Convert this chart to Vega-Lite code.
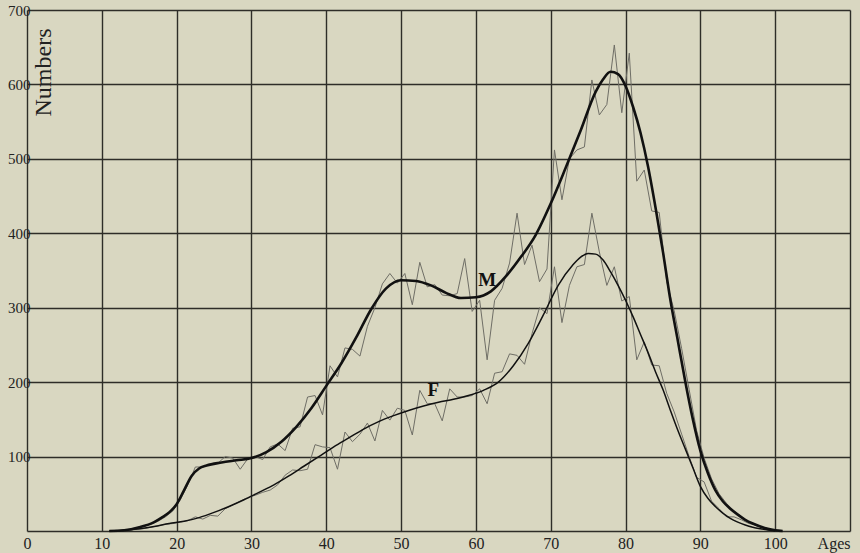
{
  "$schema": "https://vega.github.io/schema/vega-lite/v6.json",
  "width": 823,
  "height": 521,
  "autosize": "none",
  "padding": {"left": 27, "top": 10, "right": 10, "bottom": 22},
  "background": "#d9d7c1",
  "config": {
    "view": {"stroke": null},
    "font": "Liberation Serif"
  },
  "datasets": {
    "raw": [
      {"series":"M","age":12.5,"value":1},{"series":"M","age":13.5,"value":2},{"series":"M","age":14.5,"value":4},{"series":"M","age":15.5,"value":6},{"series":"M","age":16.5,"value":9},{"series":"M","age":17.5,"value":13},{"series":"M","age":18.5,"value":19},{"series":"M","age":19.5,"value":27},{"series":"M","age":20.5,"value":42},{"series":"M","age":21.5,"value":62},{"series":"M","age":22.5,"value":86},{"series":"M","age":23.5,"value":86},{"series":"M","age":24.5,"value":90},{"series":"M","age":25.5,"value":91},{"series":"M","age":26.5,"value":100},{"series":"M","age":27.5,"value":98},{"series":"M","age":28.5,"value":83},{"series":"M","age":29.5,"value":97},{"series":"M","age":30.5,"value":100},{"series":"M","age":31.5,"value":96},{"series":"M","age":32.5,"value":113},{"series":"M","age":33.5,"value":117},{"series":"M","age":34.5,"value":108},{"series":"M","age":35.5,"value":138},{"series":"M","age":36.5,"value":140},{"series":"M","age":37.5,"value":180},{"series":"M","age":38.5,"value":182},{"series":"M","age":39.5,"value":156},{"series":"M","age":40.5,"value":222},{"series":"M","age":41.5,"value":207},{"series":"M","age":42.5,"value":246},{"series":"M","age":43.5,"value":244},{"series":"M","age":44.5,"value":235},{"series":"M","age":45.5,"value":275},{"series":"M","age":46.5,"value":300},{"series":"M","age":47.5,"value":332},{"series":"M","age":48.5,"value":346},{"series":"M","age":49.5,"value":333},{"series":"M","age":50.5,"value":346},{"series":"M","age":51.5,"value":304},{"series":"M","age":52.5,"value":361},{"series":"M","age":53.5,"value":328},{"series":"M","age":54.5,"value":331},{"series":"M","age":55.5,"value":317},{"series":"M","age":56.5,"value":316},{"series":"M","age":57.5,"value":319},{"series":"M","age":58.5,"value":366},{"series":"M","age":59.5,"value":295},{"series":"M","age":60.5,"value":310},{"series":"M","age":61.5,"value":230},{"series":"M","age":62.5,"value":310},{"series":"M","age":63.5,"value":326},{"series":"M","age":64.5,"value":360},{"series":"M","age":65.5,"value":427},{"series":"M","age":66.5,"value":358},{"series":"M","age":67.5,"value":384},{"series":"M","age":68.5,"value":335},{"series":"M","age":69.5,"value":352},{"series":"M","age":70.5,"value":512},{"series":"M","age":71.5,"value":445},{"series":"M","age":72.5,"value":500},{"series":"M","age":73.5,"value":512},{"series":"M","age":74.5,"value":516},{"series":"M","age":75.5,"value":606},{"series":"M","age":76.5,"value":559},{"series":"M","age":77.5,"value":573},{"series":"M","age":78.5,"value":653},{"series":"M","age":79.5,"value":562},{"series":"M","age":80.5,"value":642},{"series":"M","age":81.5,"value":470},{"series":"M","age":82.5,"value":485},{"series":"M","age":83.5,"value":430},{"series":"M","age":84.5,"value":428},{"series":"M","age":85.5,"value":335},{"series":"M","age":86.5,"value":296},{"series":"M","age":87.5,"value":245},{"series":"M","age":88.5,"value":190},{"series":"M","age":89.5,"value":135},{"series":"M","age":90.5,"value":98},{"series":"M","age":91.5,"value":70},{"series":"M","age":92.5,"value":50},{"series":"M","age":93.5,"value":37},{"series":"M","age":94.5,"value":27},{"series":"M","age":95.5,"value":19},{"series":"M","age":96.5,"value":12},{"series":"M","age":97.5,"value":7},{"series":"M","age":98.5,"value":4},{"series":"M","age":99.5,"value":2},{"series":"M","age":100.5,"value":0},
      {"series":"F","age":12.5,"value":0.5},{"series":"F","age":13.5,"value":1},{"series":"F","age":14.5,"value":2},{"series":"F","age":15.5,"value":3},{"series":"F","age":16.5,"value":5},{"series":"F","age":17.5,"value":7},{"series":"F","age":18.5,"value":9},{"series":"F","age":19.5,"value":10},{"series":"F","age":20.5,"value":12},{"series":"F","age":21.5,"value":14},{"series":"F","age":22.5,"value":19},{"series":"F","age":23.5,"value":16},{"series":"F","age":24.5,"value":21},{"series":"F","age":25.5,"value":20},{"series":"F","age":26.5,"value":30},{"series":"F","age":27.5,"value":35},{"series":"F","age":28.5,"value":40},{"series":"F","age":29.5,"value":45},{"series":"F","age":30.5,"value":48},{"series":"F","age":31.5,"value":52},{"series":"F","age":32.5,"value":55},{"series":"F","age":33.5,"value":62},{"series":"F","age":34.5,"value":75},{"series":"F","age":35.5,"value":82},{"series":"F","age":36.5,"value":81},{"series":"F","age":37.5,"value":83},{"series":"F","age":38.5,"value":116},{"series":"F","age":39.5,"value":113},{"series":"F","age":40.5,"value":112},{"series":"F","age":41.5,"value":83},{"series":"F","age":42.5,"value":133},{"series":"F","age":43.5,"value":120},{"series":"F","age":44.5,"value":130},{"series":"F","age":45.5,"value":145},{"series":"F","age":46.5,"value":121},{"series":"F","age":47.5,"value":162},{"series":"F","age":48.5,"value":149},{"series":"F","age":49.5,"value":165},{"series":"F","age":50.5,"value":162},{"series":"F","age":51.5,"value":129},{"series":"F","age":52.5,"value":189},{"series":"F","age":53.5,"value":171},{"series":"F","age":54.5,"value":171},{"series":"F","age":55.5,"value":148},{"series":"F","age":56.5,"value":191},{"series":"F","age":57.5,"value":180},{"series":"F","age":58.5,"value":180},{"series":"F","age":59.5,"value":182},{"series":"F","age":60.5,"value":191},{"series":"F","age":61.5,"value":171},{"series":"F","age":62.5,"value":212},{"series":"F","age":63.5,"value":214},{"series":"F","age":64.5,"value":238},{"series":"F","age":65.5,"value":236},{"series":"F","age":66.5,"value":224},{"series":"F","age":67.5,"value":265},{"series":"F","age":68.5,"value":300},{"series":"F","age":69.5,"value":292},{"series":"F","age":70.5,"value":355},{"series":"F","age":71.5,"value":280},{"series":"F","age":72.5,"value":330},{"series":"F","age":73.5,"value":355},{"series":"F","age":74.5,"value":358},{"series":"F","age":75.5,"value":427},{"series":"F","age":76.5,"value":375},{"series":"F","age":77.5,"value":330},{"series":"F","age":78.5,"value":355},{"series":"F","age":79.5,"value":309},{"series":"F","age":80.5,"value":315},{"series":"F","age":81.5,"value":230},{"series":"F","age":82.5,"value":254},{"series":"F","age":83.5,"value":223},{"series":"F","age":84.5,"value":222},{"series":"F","age":85.5,"value":185},{"series":"F","age":86.5,"value":160},{"series":"F","age":87.5,"value":130},{"series":"F","age":88.5,"value":100},{"series":"F","age":89.5,"value":72},{"series":"F","age":90.5,"value":66},{"series":"F","age":91.5,"value":40},{"series":"F","age":92.5,"value":30},{"series":"F","age":93.5,"value":19},{"series":"F","age":94.5,"value":19},{"series":"F","age":95.5,"value":15},{"series":"F","age":96.5,"value":10},{"series":"F","age":97.5,"value":8},{"series":"F","age":98.5,"value":5},{"series":"F","age":99.5,"value":2},{"series":"F","age":100.5,"value":0}
    ],
    "smoothM": [
      {"age":11,"value":0},{"age":13,"value":1},{"age":15,"value":5},{"age":17,"value":12},{"age":18,"value":18},{"age":19,"value":25},{"age":20,"value":36},{"age":21,"value":55},{"age":22,"value":74},{"age":23,"value":84},{"age":24,"value":88},{"age":26,"value":92},{"age":28,"value":95},{"age":30,"value":98},{"age":32,"value":106},{"age":34,"value":120},{"age":36,"value":140},{"age":38,"value":165},{"age":40,"value":195},{"age":42,"value":225},{"age":44,"value":260},{"age":46,"value":298},{"age":48,"value":326},{"age":50,"value":337},{"age":52,"value":336},{"age":54,"value":330},{"age":56,"value":320},{"age":58,"value":313},{"age":60,"value":314},{"age":62,"value":322},{"age":64,"value":342},{"age":66,"value":368},{"age":68,"value":398},{"age":70,"value":440},{"age":72,"value":488},{"age":74,"value":538},{"age":76,"value":590},{"age":77,"value":607},{"age":78,"value":617},{"age":79,"value":614},{"age":80,"value":598},{"age":81,"value":570},{"age":82,"value":535},{"age":83,"value":490},{"age":84,"value":435},{"age":85,"value":375},{"age":86,"value":310},{"age":87,"value":255},{"age":88,"value":200},{"age":89,"value":150},{"age":90,"value":108},{"age":91,"value":78},{"age":92,"value":55},{"age":93,"value":40},{"age":94,"value":30},{"age":95,"value":22},{"age":96,"value":15},{"age":97,"value":10},{"age":98,"value":6},{"age":99,"value":3},{"age":100,"value":1},{"age":101,"value":0}
    ],
    "smoothF": [
      {"age":11,"value":0},{"age":13,"value":1},{"age":15,"value":3},{"age":17,"value":6},{"age":19,"value":10},{"age":21,"value":13},{"age":23,"value":18},{"age":25,"value":25},{"age":27,"value":33},{"age":29,"value":42},{"age":31,"value":52},{"age":33,"value":62},{"age":35,"value":74},{"age":37,"value":87},{"age":39,"value":100},{"age":41,"value":113},{"age":43,"value":125},{"age":45,"value":137},{"age":47,"value":147},{"age":49,"value":155},{"age":51,"value":162},{"age":53,"value":168},{"age":55,"value":173},{"age":57,"value":177},{"age":59,"value":182},{"age":61,"value":189},{"age":63,"value":200},{"age":65,"value":222},{"age":67,"value":252},{"age":69,"value":290},{"age":71,"value":330},{"age":73,"value":358},{"age":74,"value":368},{"age":75,"value":373},{"age":76,"value":372},{"age":77,"value":364},{"age":78,"value":348},{"age":79,"value":330},{"age":80,"value":310},{"age":81,"value":288},{"age":82,"value":264},{"age":83,"value":240},{"age":84,"value":214},{"age":85,"value":190},{"age":86,"value":162},{"age":87,"value":135},{"age":88,"value":110},{"age":89,"value":85},{"age":90,"value":60},{"age":91,"value":44},{"age":92,"value":33},{"age":93,"value":24},{"age":94,"value":17},{"age":95,"value":12},{"age":96,"value":8},{"age":97,"value":5},{"age":98,"value":3},{"age":99,"value":1.5},{"age":100,"value":0}
    ],
    "labels": [
      {"label":"M","age":61.5,"value":337},
      {"label":"F","age":54.3,"value":189}
    ]
  },
  "layer": [
    {
      "data": {"name": "raw"},
      "mark": {"type": "line", "color": "#6f6e66", "strokeWidth": 1},
      "encoding": {
        "x": {
          "field": "age", "type": "quantitative",
          "scale": {"domain": [0, 110], "nice": false, "zero": false},
          "axis": {
            "values": [0,5,10,15,20,25,30,35,40,45,50,55,60,65,70,75,80,85,90,95,100,105,110],
            "grid": true, "gridColor": "#2e2d28", "gridWidth": 1.4, "gridOpacity": 1,
            "domain": false, "ticks": false, "title": null,
            "labelExpr": "datum.value == 110 ? 'Ages' : (datum.value % 10 == 0 ? datum.label : '')",
            "labelAlign": {"condition": {"test": "datum.value == 110", "value": "right"}, "value": "center"},
            "labelFont": "Liberation Serif", "labelFontSize": 16, "labelColor": "#222",
            "labelPadding": 4, "labelOverlap": false, "labelFlush": false, "labelBound": false
          }
        },
        "y": {
          "field": "value", "type": "quantitative",
          "scale": {"domain": [0, 700], "nice": false},
          "axis": {
            "values": [0,50,100,150,200,250,300,350,400,450,500,550,600,650,700],
            "grid": true, "gridColor": "#2e2d28", "gridWidth": 1.4, "gridOpacity": 1,
            "domain": false, "ticks": false,
            "labelExpr": "datum.value % 100 == 0 && datum.value > 0 ? datum.label : ''",
            "labelFont": "Liberation Serif", "labelFontSize": 15, "labelColor": "#222",
            "labelPadding": -3, "labelOverlap": false, "labelFlush": false, "labelBaseline": "middle",
            "title": "Numbers", "titleFont": "Liberation Serif", "titleFontSize": 24,
            "titleFontWeight": "normal", "titleColor": "#222", "titleAngle": 270,
            "titleX": 16, "titleY": 62, "titleAlign": "center", "titleBaseline": "middle"
          }
        },
        "detail": {"field": "series", "type": "nominal"}
      }
    },
    {
      "data": {"name": "smoothM"},
      "mark": {"type": "line", "color": "#111", "strokeWidth": 2.6, "interpolate": "monotone"},
      "encoding": {
        "x": {"field": "age", "type": "quantitative"},
        "y": {"field": "value", "type": "quantitative"}
      }
    },
    {
      "data": {"name": "smoothF"},
      "mark": {"type": "line", "color": "#111", "strokeWidth": 1.5, "interpolate": "monotone"},
      "encoding": {
        "x": {"field": "age", "type": "quantitative"},
        "y": {"field": "value", "type": "quantitative"}
      }
    },
    {
      "data": {"name": "labels"},
      "mark": {"type": "text", "font": "Liberation Serif", "fontSize": 19, "fontWeight": "bold", "color": "#111"},
      "encoding": {
        "x": {"field": "age", "type": "quantitative"},
        "y": {"field": "value", "type": "quantitative"},
        "text": {"field": "label", "type": "nominal"}
      }
    }
  ]
}
